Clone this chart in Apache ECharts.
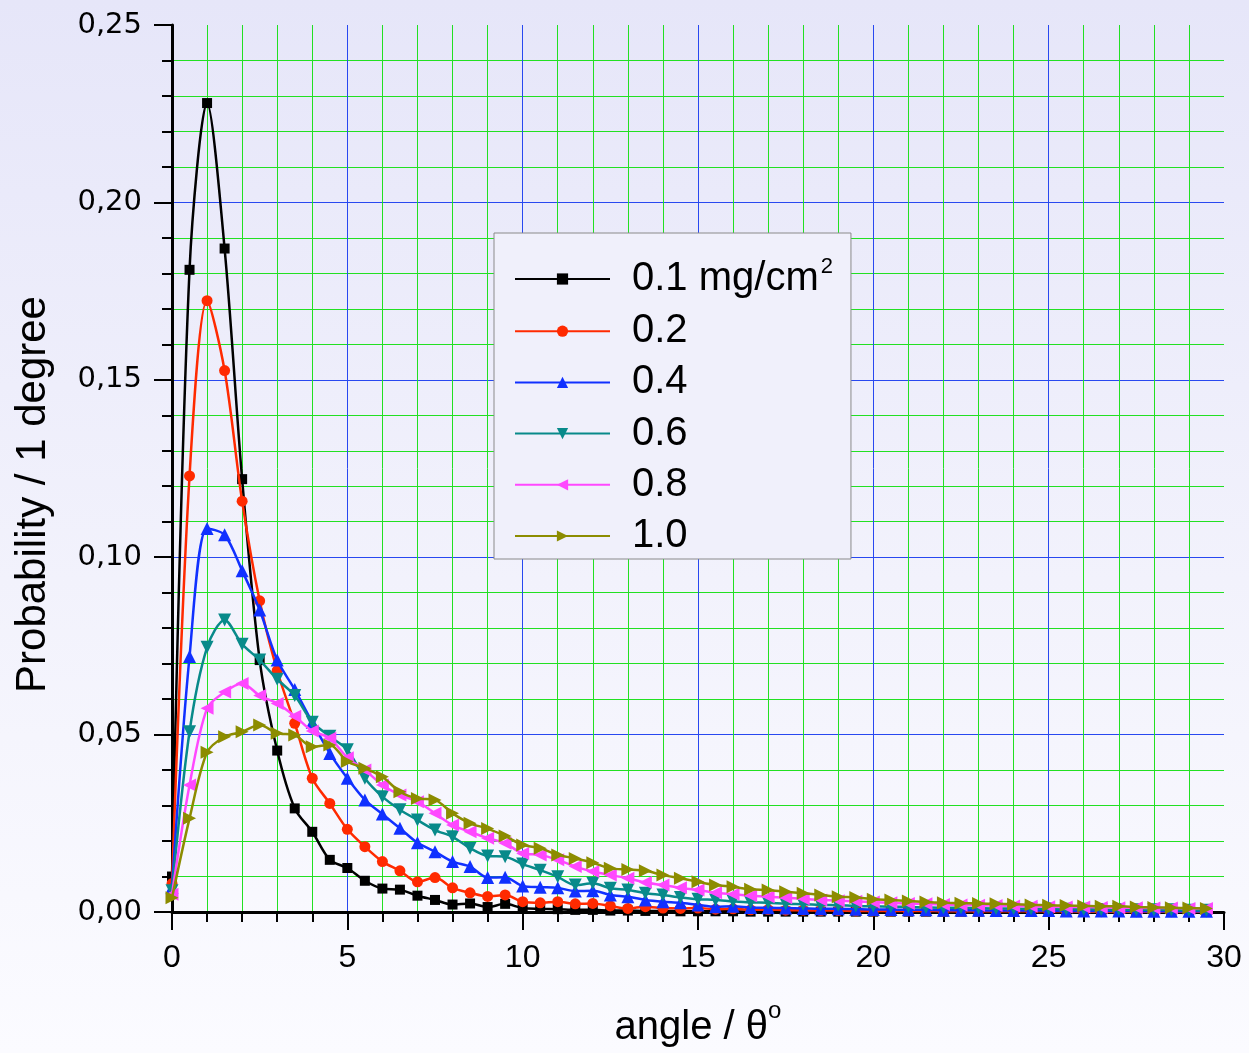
<!DOCTYPE html>
<html>
<head>
<meta charset="utf-8">
<script src="https://cdn.jsdelivr.net/npm/echarts@6/dist/echarts.min.js"></script>
<style>
html,body{margin:0;padding:0;}
#chart{width:1249px;height:1053px;background:linear-gradient(to bottom,#e6e6f9 0%,#f2f2fc 55%,#fbfbff 100%);}
</style>
</head>
<body>
<div id="chart"></div>
<script>
// angle grid (degrees)
const angles = [0,0.5,1,1.5,2,2.5,3,3.5,4,4.5,5,5.5,6,6.5,7,7.5,8,8.5,9,9.5,10,10.5,11,11.5,12,12.5,13,13.5,14,14.5,15,15.5,16,16.5,17,17.5,18,18.5,19,19.5,20,20.5,21,21.5,22,22.5,23,23.5,24,24.5,25,25.5,26,26.5,27,27.5,28,28.5,29,29.5];

const seriesNames = ['0.1 mg/cm2','0.2','0.4','0.6','0.8','1.0'];

const p01 = [0.010,0.181,0.228,0.187,0.122,0.071,0.0455,0.0292,0.0226,0.0147,0.0124,0.0088,0.0066,0.0063,0.0046,0.0034,0.0021,0.0024,0.0014,0.0023,0.0011,0.0009,0.0008,0.0006,0.0006,0.0004,0.0004,0.0003,0.0003,0.0002,0.0002,0.0002,0.0002,0.0001,0.0001,0.0001,0.0001,0.0001,0.0001,0.0001,0.0001,0.0001,0.0001,0.0001,0.0001,0.0001,0.0001,0.0001,0.0001,0.0001,0.0001,0.0001,0.0001,0.0001,0.0001,0.0001,0.0001,0.0001,0.0001,0.0001];
const p02 = [0.008,0.1229,0.1723,0.1526,0.1158,0.0877,0.068,0.0532,0.0377,0.0306,0.0233,0.0184,0.0142,0.0116,0.0085,0.0097,0.0068,0.0054,0.0044,0.0048,0.0029,0.0026,0.0029,0.0023,0.0024,0.0017,0.0010,0.0015,0.0011,0.0010,0.0011,0.0008,0.0009,0.0006,0.0007,0.0005,0.0005,0.0004,0.0004,0.0003,0.0003,0.0003,0.0003,0.0003,0.0002,0.0002,0.0002,0.0002,0.0002,0.0002,0.0002,0.0002,0.0001,0.0001,0.0001,0.0001,0.0001,0.0001,0.0001,0.0001];
const p04 = [0.007,0.072,0.1081,0.1063,0.0962,0.0851,0.071,0.0627,0.0535,0.0447,0.0377,0.0316,0.0276,0.0236,0.0195,0.017,0.0142,0.0128,0.0097,0.0098,0.0073,0.007,0.0068,0.0059,0.006,0.0048,0.0043,0.0034,0.0029,0.0026,0.002,0.0015,0.0016,0.0013,0.0012,0.0011,0.0010,0.0009,0.0009,0.0008,0.0007,0.0007,0.0006,0.0006,0.0005,0.0005,0.0005,0.0004,0.0004,0.0004,0.0004,0.0003,0.0003,0.0003,0.0003,0.0002,0.0002,0.0002,0.0002,0.0002];
const p06 = [0.006,0.0508,0.0746,0.0823,0.0755,0.071,0.0656,0.061,0.0535,0.0495,0.0457,0.0377,0.0325,0.0288,0.0259,0.0231,0.0212,0.018,0.0158,0.0156,0.0135,0.0118,0.0099,0.0076,0.0081,0.0067,0.0062,0.0053,0.0048,0.0041,0.0036,0.0034,0.0030,0.0027,0.0026,0.0023,0.0022,0.0020,0.0019,0.0017,0.0016,0.0015,0.0014,0.0013,0.0012,0.0012,0.0011,0.0010,0.0010,0.0009,0.0009,0.0008,0.0008,0.0007,0.0007,0.0006,0.0006,0.0006,0.0005,0.0005];
const p08 = [0.005,0.0358,0.0574,0.062,0.0644,0.061,0.0588,0.0552,0.051,0.049,0.0435,0.040,0.0358,0.033,0.0311,0.0278,0.0245,0.0226,0.0208,0.0194,0.0165,0.0161,0.0147,0.0128,0.0114,0.0104,0.0095,0.0083,0.0076,0.0068,0.0062,0.0054,0.0050,0.0046,0.0043,0.0040,0.0037,0.0034,0.0032,0.0030,0.0028,0.0026,0.0024,0.0023,0.0021,0.0020,0.0019,0.0018,0.0017,0.0016,0.0015,0.0014,0.0014,0.0013,0.0012,0.0012,0.0011,0.0011,0.0010,0.0010];
const p10 = [0.004,0.0264,0.045,0.0494,0.0508,0.0527,0.0504,0.0499,0.0466,0.0471,0.0424,0.0405,0.0381,0.0339,0.032,0.0316,0.0278,0.025,0.0235,0.0214,0.0189,0.018,0.0161,0.0151,0.0139,0.0123,0.012,0.0116,0.0104,0.0095,0.0085,0.0076,0.0071,0.0064,0.0062,0.0057,0.0053,0.0048,0.0043,0.0041,0.0036,0.0034,0.0031,0.0028,0.0026,0.0025,0.0024,0.0023,0.0022,0.0020,0.0019,0.0018,0.0017,0.0016,0.0016,0.0014,0.0013,0.0012,0.0011,0.0010];

const xTicks = [0,5,10,15,20,25,30];
const yTicks = ['0,00','0,05','0,10','0,15','0,20','0,25'];

const allData = [p01,p02,p04,p06,p08,p10];
const colors = ['#000000','#ff2a00','#1030ff','#088a8a','#ff48ff','#8c8c00'];
const symbols = ['rect','circle','triangle','triangle','triangle','triangle'];
const rotates = [0,0,0,180,90,-90];
const sizes = [10,11,13,13,13,13];

const chart = echarts.init(document.getElementById('chart'), null, {renderer:'canvas'});

const series = allData.map((d,i)=>({
  name: seriesNames[i],
  type: 'line',
  data: angles.map((a,j)=>[a,d[j]]),
  smooth: 0.3,
  symbol: symbols[i],
  symbolRotate: rotates[i],
  symbolSize: sizes[i],
  showAllSymbol: true,
  lineStyle: {color: colors[i], width: 2.5},
  itemStyle: {color: colors[i], borderWidth: 0},
  z: 3 + i,
  animation: false
}));

chart.setOption({
  backgroundColor: 'transparent',
  animation: false,
  grid: {left: 172, right: 25, top: 25, bottom: 141, containLabel: false, outerBoundsMode: 'none'},
  xAxis: {
    type: 'value', min: 0, max: 30, interval: 5,
    name: 'angle / θ{sup|o}',
    nameLocation: 'middle', nameGap: 87,
    nameTextStyle: {fontFamily: 'Liberation Sans', fontSize: 40, color: '#000',
      rich: {sup: {fontSize: 24, fontFamily:'Liberation Sans', verticalAlign:'top', padding:[0,0,34,0]}}},
    axisLine: {show: true, lineStyle: {color: '#000', width: 3}},
    axisTick: {show: true, inside: false, length: 18, lineStyle: {color: '#000', width: 2}},
    minorTick: {show: true, splitNumber: 5, length: 10, lineStyle: {color: '#000', width: 2}},
    splitLine: {show: true, showMinLine: false, showMaxLine: false, lineStyle: {color: '#2848f0', width: 1}},
    minorSplitLine: {show: true, lineStyle: {color: '#22e022', width: 1}},
    axisLabel: {show: true, margin: 30, fontFamily: 'Liberation Sans', fontSize: 32, color: '#000',
      formatter: v => xTicks.indexOf(v) >= 0 ? String(v) : ''}
  },
  yAxis: {
    type: 'value', min: 0, max: 0.25, interval: 0.05,
    name: 'Probability / 1 degree',
    nameLocation: 'middle', nameGap: 118,
    nameTextStyle: {fontFamily: 'Liberation Sans', fontSize: 42, color: '#000', padding: [0, 52, 0, 0]},
    axisLine: {show: true, lineStyle: {color: '#000', width: 3}},
    axisTick: {show: true, inside: false, length: 18, lineStyle: {color: '#000', width: 2}},
    minorTick: {show: true, splitNumber: 5, length: 10, lineStyle: {color: '#000', width: 2}},
    splitLine: {show: true, showMinLine: false, showMaxLine: false, lineStyle: {color: '#2848f0', width: 1}},
    minorSplitLine: {show: true, lineStyle: {color: '#22e022', width: 1}},
    axisLabel: {show: true, margin: 30, fontFamily: 'DejaVu Sans', fontSize: 29, color: '#000',
      formatter: v => yTicks[Math.round(v / 0.05)]}
  },
  legend: {
    show: true, orient: 'vertical', left: 494, top: 233,
    data: seriesNames,
    itemWidth: 95, itemHeight: 14, itemGap: 5.2,
    padding: [23, 18, 0, 20],
    backgroundColor: '#f0f0fb', borderColor: '#8a8a8a', borderWidth: 1, borderRadius: 0,
    textStyle: {fontFamily: 'Liberation Sans', fontSize: 40, color: '#000', lineHeight: 46, padding: [0,0,0,17],
      rich: {sup: {fontSize: 22, fontFamily:'Liberation Sans', verticalAlign:'top', lineHeight: 21, padding:[0,0,25,2]}}},
    formatter: n => n.replace(/cm2$/, 'cm{sup|2}')
  },
  series: series
});
</script>
</body>
</html>
